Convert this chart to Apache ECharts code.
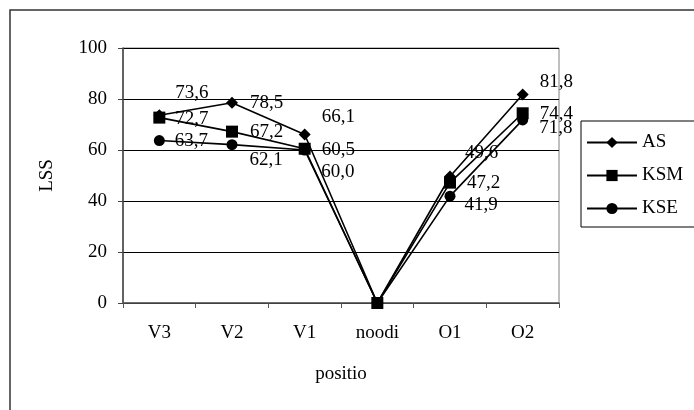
<!DOCTYPE html>
<html>
<head>
<meta charset="utf-8">
<script src="https://cdn.jsdelivr.net/npm/echarts@6/dist/echarts.min.js"></script>
<style>
  html, body { margin: 0; padding: 0; background: #fff; }
  #chart { width: 694px; height: 410px; }
</style>
</head>
<body>
<div id="chart"></div>
<script>
// Positions along the profile
const categories = ['V3', 'V2', 'V1', 'noodi', 'O1', 'O2'];

// LSS values per group
const seriesAS  = [73.6, 78.5, 66.1, 0, 49.6, 81.8];
const seriesKSM = [72.7, 67.2, 60.5, 0, 47.2, 74.4];
const seriesKSE = [63.7, 62.1, 60.0, 0, 41.9, 71.8];

const yTicks = { min: 0, max: 100, interval: 20 };

// Hand-placed label nudges [dx, dy] per point, in pixels
const offsetsAS  = [[0, -22], [2, 0], [1, -17], null, [-1, -24], [1, -12]];
const offsetsKSM = [[0, 1],   [2, 0], [1, 1],   null, [1, 0],    [1, 1]];
const offsetsKSE = [[0, 0],   [2, 15], [1, 22], null, [-1, 9],   [1, 8]];

const FONT = '"Liberation Serif", "Times New Roman", serif';
const FS = 19;
const fmt = v => v.toFixed(1).replace('.', ',');

function makeSeries(name, values, offsets, symbol, size) {
  return {
    name: name,
    type: 'line',
    symbol: symbol,
    symbolSize: size,
    lineStyle: { color: '#000', width: 1.6 },
    itemStyle: { color: '#000' },
    z: 3,
    data: values.map((v, i) => ({
      value: v,
      label: offsets[i]
        ? { show: true, offset: offsets[i] }
        : { show: false }
    })),
    label: {
      position: 'right',
      distance: 10,
      formatter: p => fmt(p.value),
      fontFamily: FONT,
      fontSize: FS,
      color: '#000'
    }
  };
}

const chart = echarts.init(document.getElementById('chart'), null, { renderer: 'canvas' });

chart.setOption({
  animation: false,
  backgroundColor: '#fff',
  textStyle: { fontFamily: FONT },
  graphic: [{
    type: 'rect',
    shape: { x: 10, y: 10, width: 700, height: 420 },
    style: { fill: 'none', stroke: '#333', lineWidth: 1.5 },
    z: -10
  }],
  grid: {
    left: 123, top: 48, width: 436, height: 255,
    show: true, borderColor: '#808080', borderWidth: 1
  },
  legend: {
    orient: 'vertical',
    left: 581, top: 121,
    itemWidth: 50, itemHeight: 14,
    itemGap: 14,
    padding: [12, 14, 9, 5],
    borderColor: '#000', borderWidth: 1,
    textStyle: { fontFamily: FONT, fontSize: FS, color: '#000' },
    data: ['AS', 'KSM', 'KSE']
  },
  xAxis: {
    type: 'category',
    data: categories,
    boundaryGap: true,
    name: 'positio',
    nameLocation: 'middle',
    nameGap: 62,
    nameTextStyle: { fontFamily: FONT, fontSize: FS, color: '#000' },
    axisLine: { lineStyle: { color: '#555', width: 1.5 } },
    axisTick: { show: true, length: 5, lineStyle: { color: '#555' } },
    axisLabel: { fontFamily: FONT, fontSize: FS, color: '#000', margin: 21 },
    splitLine: { show: false }
  },
  yAxis: {
    type: 'value',
    min: yTicks.min, max: yTicks.max, interval: yTicks.interval,
    name: 'LSS',
    nameLocation: 'middle',
    nameGap: 66,
    nameRotate: 90,
    nameTextStyle: { fontFamily: FONT, fontSize: FS, color: '#000' },
    axisLine: { show: true, lineStyle: { color: '#444', width: 1.5 } },
    axisTick: { show: true, length: 5, lineStyle: { color: '#444' } },
    axisLabel: { fontFamily: FONT, fontSize: FS, color: '#000', margin: 16 },
    splitLine: { show: true, lineStyle: { color: '#000', width: 1 } }
  },
  series: [
    makeSeries('AS', seriesAS, offsetsAS, 'diamond', 12),
    makeSeries('KSM', seriesKSM, offsetsKSM, 'rect', 12),
    makeSeries('KSE', seriesKSE, offsetsKSE, 'circle', 11)
  ]
});
</script>
</body>
</html>
